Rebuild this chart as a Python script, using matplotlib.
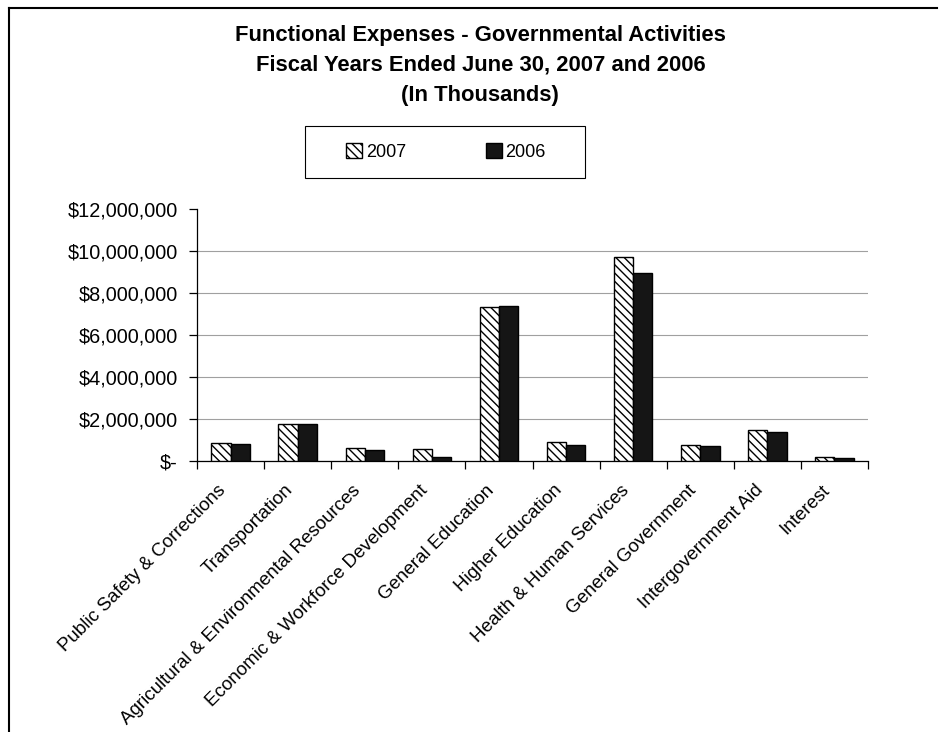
import numpy as np
import matplotlib
matplotlib.use('Agg')
import matplotlib.pyplot as plt
from matplotlib.lines import Line2D
from matplotlib.patches import Rectangle
from matplotlib.ticker import FuncFormatter
from matplotlib.transforms import ScaledTranslation

plt.rcParams['font.family'] = ['Liberation Sans', 'DejaVu Sans']
plt.rcParams['hatch.linewidth'] = 1.0

categories = ['Public Safety & Corrections', 'Transportation',
              'Agricultural & Environmental Resources',
              'Economic & Workforce Development', 'General Education',
              'Higher Education', 'Health & Human Services',
              'General Government', 'Intergovernment Aid', 'Interest']
# values in thousands of dollars
fy2007 = [860000, 1780000, 640000, 590000, 7320000,
          920000, 9710000, 760000, 1500000, 210000]
fy2006 = [810000, 1780000, 530000, 190000, 7360000,
          780000, 8950000, 720000, 1400000, 160000]
yticks = [0, 2000000, 4000000, 6000000, 8000000, 10000000, 12000000]


def money(v, pos):
    if v == 0:
        return '$-'
    return '${:,.0f}'.format(v)


fig = plt.figure(figsize=(9.4, 7.32), dpi=100)
ax = fig.add_axes([0.2096, 0.3702, 0.7138, 0.3443])

x = np.arange(len(categories)) + 0.5
w = 0.287
ax.bar(x - w / 2, fy2007, w, color='white', edgecolor='black',
       hatch='\\\\\\\\', linewidth=1.0, label='2007', zorder=3)
ax.bar(x + w / 2, fy2006, w, color='#151515', edgecolor='black',
       linewidth=1.0, label='2006', zorder=3)

ax.set_xlim(0, len(categories))
ax.set_ylim(0, 12000000)
ax.set_yticks(yticks)
ax.yaxis.set_major_formatter(FuncFormatter(money))
ax.yaxis.grid(True, color='#a0a0a0', linewidth=0.8, zorder=0)
ax.yaxis.get_gridlines()[-1].set_visible(False)

ax.set_xticks(np.arange(len(categories) + 1))
ax.set_xticklabels([])
ax.set_xticks(x, minor=True)
ax.set_xticklabels(categories, minor=True, rotation=45, ha='right',
                   va='top', rotation_mode='anchor', fontsize=13.5)
ax.tick_params(axis='x', which='minor', length=0, pad=12)
ax.tick_params(axis='x', which='major', length=6, direction='out',
               width=0.9)
ax.tick_params(axis='y', length=6, width=0.9, labelsize=14.3, pad=8)

shift = ScaledTranslation(-0.13, -0.04, fig.dpi_scale_trans)
for lab in ax.get_xticklabels(minor=True):
    lab.set_transform(lab.get_transform() + shift)

for s in ['top', 'right']:
    ax.spines[s].set_visible(False)
ax.spines['left'].set_linewidth(0.9)
ax.spines['bottom'].set_linewidth(0.9)

fig.text(0.511, 0.952, 'Functional Expenses - Governmental Activities',
         ha='center', va='center', fontsize=15.8, fontweight='bold')
fig.text(0.511, 0.911, 'Fiscal Years Ended June 30, 2007 and 2006',
         ha='center', va='center', fontsize=15.8, fontweight='bold')
fig.text(0.511, 0.870, '(In Thousands)',
         ha='center', va='center', fontsize=15.8, fontweight='bold')

# legend box drawn separately so its padding can be wider than tall
fig.add_artist(Rectangle((305 / 940, 1 - 178 / 732), 280 / 940, 52 / 732,
                         transform=fig.transFigure, facecolor='white',
                         edgecolor='black', linewidth=0.8))
leg = fig.legend(loc='center', bbox_to_anchor=(446 / 940, 1 - 152 / 732),
                 ncol=2, fontsize=13, frameon=False,
                 handlelength=0.9, handleheight=0.9,
                 handletextpad=0.2, columnspacing=4.4,
                 borderpad=0, borderaxespad=0)

# page frame (left and top edges)
fig.add_artist(Line2D([9 / 940, 9 / 940], [0, 1 - 8 / 732],
                      color='black', linewidth=1.5))
fig.add_artist(Line2D([9 / 940, 937 / 940], [1 - 8 / 732, 1 - 8 / 732],
                      color='black', linewidth=1.5))

fig.savefig('out.png', dpi=100)
